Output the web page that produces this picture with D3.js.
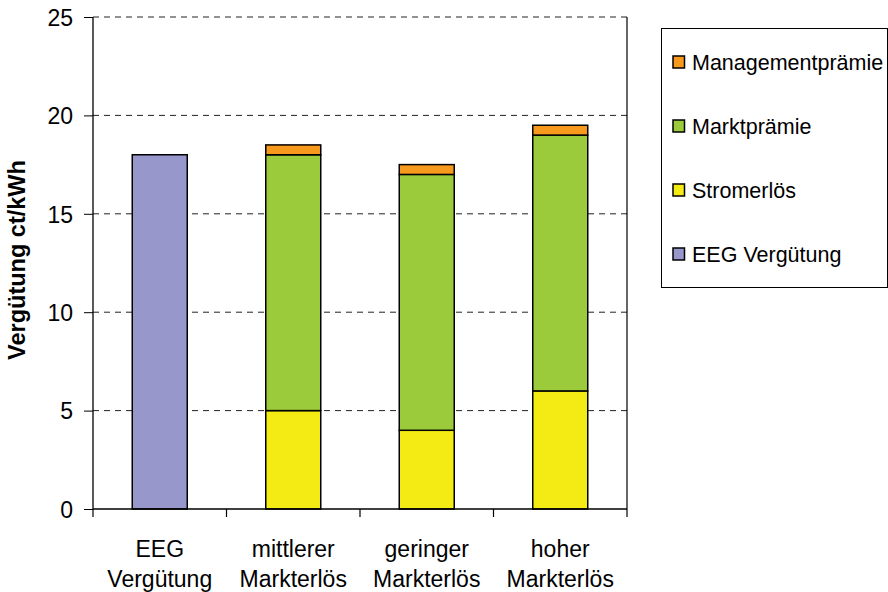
<!DOCTYPE html>
<html><head><meta charset="utf-8">
<script src="https://cdn.jsdelivr.net/npm/d3@7"></script>
<style>body{margin:0;background:#fff}svg{display:block}text{font-family:"Liberation Sans",Arial,sans-serif;fill:#000}</style>
</head><body><svg id="c" width="888" height="592"></svg>
<script>
const categories = [["EEG","Vergütung"],["mittlerer","Markterlös"],["geringer","Markterlös"],["hoher","Markterlös"]];
const seriesNames = ["EEG Vergütung","Stromerlös","Marktprämie","Managementprämie"];
const eegVerguetung = [18, 0, 0, 0];
const stromerloes = [0, 5, 4, 6];
const marktpraemie = [0, 13, 13, 13];
const managementpraemie = [0, 0.5, 0.5, 0.5];
const yTicks = [0,5,10,15,20,25];
const colors = ["#9797CB","#F5EB14","#9BCB3B","#F7991C"];
const legendOrder = ["Managementprämie","Marktprämie","Stromerlös","EEG Vergütung"];

const svg = d3.select("#c");
const L=93, R=627, T=17, B=509;
const x = d3.scaleBand().domain(d3.range(categories.length)).range([L,R]).paddingInner(0).paddingOuter(0);
const y = d3.scaleLinear().domain([0,25]).range([B,T]);
const barW = 55;

// gridlines
svg.append("g").selectAll("line").data(yTicks.filter(d=>d>0)).join("line")
  .attr("x1",L).attr("x2",R).attr("y1",d=>y(d)).attr("y2",d=>y(d))
  .attr("stroke","#222").attr("stroke-width",1).attr("stroke-dasharray","6,5");
// right border
svg.append("line").attr("x1",R).attr("x2",R).attr("y1",T).attr("y2",B).attr("stroke","#000").attr("stroke-width",1.2);

// stacks
const data = categories.map((c,i)=>({i, v:[eegVerguetung[i],stromerloes[i],marktpraemie[i],managementpraemie[i]]}));
const stack = d3.stack().keys([0,1,2,3]).value((d,k)=>d.v[k]);
const layers = stack(data);
layers.forEach((layer,k)=>{
  svg.append("g").selectAll("rect").data(layer.filter(s=>s[1]-s[0]>0)).join("rect")
    .attr("x",s=>x(s.data.i)+x.bandwidth()/2-barW/2)
    .attr("width",barW)
    .attr("y",s=>y(s[1]))
    .attr("height",s=>y(s[0])-y(s[1]))
    .attr("fill",colors[k]).attr("stroke","#000").attr("stroke-width",1.5);
});

// y axis
const ya = svg.append("g").attr("transform",`translate(${L},0)`)
  .call(d3.axisLeft(y).tickValues(yTicks).tickSize(9).tickPadding(11));
ya.select(".domain").attr("stroke","#000").attr("stroke-width",1.3).attr("d",`M-0,${T}V${B}`);
ya.selectAll("text").style("font-size","23px").style("font-family","Liberation Sans, Arial, sans-serif").attr("dy","0.36em");
ya.selectAll("line").attr("stroke","#000");

// x axis
const xa = svg.append("g").attr("transform",`translate(0,${B})`);
xa.append("line").attr("x1",L).attr("x2",R).attr("y1",0).attr("y2",0).attr("stroke","#000").attr("stroke-width",1.3);
const bounds = d3.range(categories.length+1).map(i=> i<categories.length ? x(i) : R);
xa.selectAll(".tk").data(bounds).join("line").attr("class","tk")
  .attr("x1",d=>d).attr("x2",d=>d).attr("y1",0).attr("y2",8).attr("stroke","#000").attr("stroke-width",1.2);
categories.forEach((c,i)=>{
  const cx = x(i)+x.bandwidth()/2;
  const t = svg.append("text").attr("x",cx).attr("text-anchor","middle").style("font-size","23px");
  t.append("tspan").attr("x",cx).attr("y",557).text(c[0]);
  t.append("tspan").attr("x",cx).attr("y",587).text(c[1]);
});

// y label
svg.append("text").attr("transform","translate(25,260) rotate(-90)").attr("text-anchor","middle")
  .style("font-size","23.5px").style("font-weight","bold").text("Vergütung ct/kWh");

// legend
svg.append("rect").attr("x",661.5).attr("y",28.5).attr("width",226).attr("height",259)
  .attr("fill","#fff").attr("stroke","#000").attr("stroke-width",1);
const lg = svg.append("g").selectAll("g").data(legendOrder).join("g")
  .attr("transform",(d,i)=>`translate(673,${62+i*64})`);
lg.append("rect").attr("x",0).attr("y",-6).attr("width",11.5).attr("height",12)
  .attr("fill",d=>colors[seriesNames.indexOf(d)]).attr("stroke","#000").attr("stroke-width",1.5);
lg.append("text").attr("x",19).attr("y",7.5).style("font-size","21.5px").text(d=>d);
</script></body></html>
